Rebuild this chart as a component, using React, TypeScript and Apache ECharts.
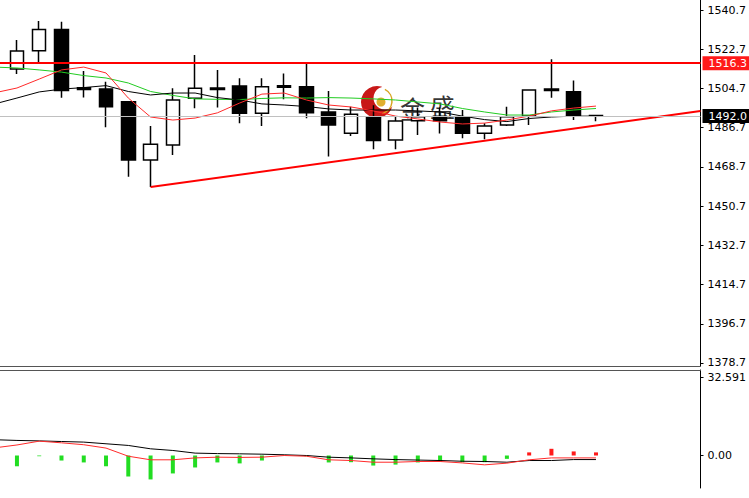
import React, { useEffect, useRef } from "react";
import * as echarts from "echarts";

// Candles: [open, close, low, high]
const candles: number[][] = [
  [1513.6, 1521.9, 1511.3, 1526.9],
  [1522.0, 1531.8, 1515.9, 1535.6],
  [1531.8, 1503.7, 1500.4, 1535.3],
  [1505.0, 1504.2, 1500.6, 1512.7],
  [1504.4, 1496.3, 1486.9, 1507.8],
  [1498.6, 1471.9, 1464.2, 1498.6],
  [1471.9, 1479.1, 1459.5, 1487.5],
  [1478.8, 1499.4, 1474.2, 1504.8],
  [1500.2, 1504.8, 1495.6, 1520.0],
  [1504.9, 1504.2, 1496.0, 1513.2],
  [1505.8, 1493.3, 1488.7, 1509.4],
  [1493.3, 1505.5, 1487.5, 1509.4],
  [1505.9, 1505.3, 1499.7, 1511.6],
  [1505.5, 1493.6, 1491.0, 1516.4],
  [1493.9, 1487.9, 1473.5, 1503.5],
  [1484.1, 1492.8, 1482.9, 1496.3],
  [1491.7, 1480.8, 1476.8, 1497.0],
  [1481.0, 1489.8, 1476.8, 1491.7],
  [1489.9, 1491.7, 1483.3, 1496.0],
  [1491.9, 1489.9, 1484.0, 1496.0],
  [1491.7, 1484.1, 1481.8, 1494.8],
  [1484.1, 1487.5, 1481.4, 1488.7],
  [1487.9, 1491.7, 1487.5, 1496.3],
  [1492.1, 1504.0, 1487.9, 1504.0],
  [1504.4, 1503.8, 1500.4, 1518.1],
  [1503.2, 1492.1, 1490.2, 1508.3],
  [1492.3, 1492.0, 1489.7, 1492.3],
];

// Indicator lines: first value belongs to the bar just before the visible range (index -1)
const maRed = [
  1502.7, 1504.9, 1509.0, 1513.2, 1514.5, 1511.8, 1500.3, 1491.6, 1490.2, 1491.1, 1493.5,
  1498.0, 1502.1, 1502.6, 1499.4, 1497.1, 1496.2, 1494.4, 1492.0, 1490.7, 1489.3,
  1488.4, 1488.8, 1490.2, 1492.0, 1494.4, 1495.7, 1496.6,
];
const maBlack = [
  1497.6, 1500.3, 1503.1, 1504.4, 1505.1, 1506.0, 1503.3, 1501.7, 1502.6, 1502.6, 1500.5,
  1499.4, 1497.6, 1497.1, 1496.4, 1495.3, 1494.8, 1494.8, 1494.8, 1494.4, 1493.9,
  1492.0, 1490.4, 1489.5, 1490.9, 1491.6, 1492.0, 1492.0,
];
const maGreen = [
  1514.5, 1514.1, 1513.2, 1512.2, 1510.6, 1509.5, 1507.2, 1503.3, 1501.5, 1499.9, 1499.7,
  1499.6, 1500.1, 1500.4, 1500.3, 1500.5, 1500.3, 1499.9, 1499.4, 1498.5, 1497.6,
  1495.5, 1493.9, 1492.5, 1492.5, 1493.9, 1494.8, 1495.5,
];

const macdHist = [
  -4.5, -0.3, -2.1, -2.9, -4.5, -8.8, -10.0, -7.5, -5.0, -2.9, -3.3, -2.1, 0, -0.3,
  -2.9, -2.8, -4.2, -3.8, -2.9, -2.4, -2.8, -2.8, -1.4, 1.3, 2.8, 1.7, 1.3,
];
const macdMain = [
  6.6, 6.3, 6.1, 5.85, 5.6, 4.9, 4.2, 2.8, 2.1, 1.0, 0.8, 0.7, 0.55, 0.3, 0.0, -0.7, -1.0,
  -1.4, -1.7, -1.9, -2.1, -2.4, -2.5, -2.8, -2.1, -2.1, -1.7, -1.7,
];
const macdSignal = [
  3.2, 4.4, 6.0, 5.3, 4.5, 3.1, -0.3, -1.8, -1.8, -1.0, -0.7, -0.8, -0.7, 0.0, -0.3, -1.8,
  -2.1, -2.8, -2.8, -2.5, -2.5, -3.1, -3.9, -3.2, -1.8, -1.0, -1.0, -1.0,
];

const priceTicks = [1378.7, 1396.7, 1414.7, 1432.7, 1450.7, 1468.7, 1486.7, 1504.7, 1522.7, 1540.7];
const lowerTickValues = [0, 32.591];
const lowerTickLabels = ["0.00", "32.591"];

const resistanceLevel = 1516.3;
const bidLevel = 1492.0;
const levelLabels = ["1516.3", "1492.0"];

// trend line endpoints: [bar index, price]
const trendLine = [
  [6, 1459.5],
  [30.69, 1494.3],
];

const X_MIN = -0.761;
const X_MAX = 30.694;

const FONT = "DejaVu Sans";

export default function App() {
  const ref = useRef<HTMLDivElement>(null);

  useEffect(() => {
    document.body.style.margin = "0";
    if (!ref.current) return;
    const chart = echarts.init(ref.current, undefined, { renderer: "svg" });

    // indicator arrays start one bar before the first visible candle
    const idx = (arr: number[]) => arr.map((v, i) => [i - 1, v]);

    const option: any = {
      animation: false,
      backgroundColor: "#ffffff",
      grid: [
        { left: 0, right: 46, top: 0, height: 366 },
        { left: 0, right: 46, top: 370, height: 118 },
      ],
      xAxis: [
        {
          type: "value",
          gridIndex: 0,
          min: X_MIN,
          max: X_MAX,
          axisLine: { show: true, onZero: false, lineStyle: { color: "#555", width: 1 } },
          axisTick: { show: false },
          axisLabel: { show: false },
          splitLine: { show: false },
        },
        {
          type: "value",
          gridIndex: 1,
          position: "top",
          min: X_MIN,
          max: X_MAX,
          axisLine: { show: true, onZero: false, lineStyle: { color: "#555", width: 1 } },
          axisTick: { show: false },
          axisLabel: { show: false },
          splitLine: { show: false },
        },
      ],
      yAxis: [
        {
          type: "value",
          gridIndex: 0,
          position: "right",
          min: 1377.32,
          max: 1545.29,
          axisLine: { show: true, onZero: false, lineStyle: { color: "#000", width: 1 } },
          axisTick: { show: true, length: 3, customValues: priceTicks, lineStyle: { color: "#000" } },
          axisLabel: {
            customValues: priceTicks,
            formatter: (v: number) => v.toFixed(1),
            margin: 7,
            color: "#000",
            fontSize: 11,
            fontFamily: FONT,
          },
          splitLine: { show: false },
        },
        {
          type: "value",
          gridIndex: 1,
          position: "right",
          min: -13.58,
          max: 35.73,
          axisLine: { show: true, onZero: false, lineStyle: { color: "#000", width: 1 } },
          axisTick: { show: true, length: 3, customValues: lowerTickValues, lineStyle: { color: "#000" } },
          axisLabel: {
            customValues: lowerTickValues,
            formatter: (v: number) => {
              const k = lowerTickValues.indexOf(v);
              return k >= 0 ? lowerTickLabels[k] : String(v);
            },
            margin: 7,
            color: "#000",
            fontSize: 11,
            fontFamily: FONT,
          },
          splitLine: { show: false },
        },
      ],
      series: [
        {
          type: "candlestick",
          xAxisIndex: 0,
          yAxisIndex: 0,
          barWidth: 14,
          encode: { x: 0, y: [1, 2, 3, 4] },
          data: candles.map((c, i) => [i, c[0], c[1], c[2], c[3]]),
          itemStyle: {
            color: "#ffffff",
            color0: "#000000",
            borderColor: "#000000",
            borderColor0: "#000000",
            borderColorDoji: "#000000",
            borderWidth: 1.5,
          },
          markLine: {
            silent: true,
            symbol: "none",
            animation: false,
            data: [
              {
                yAxis: bidLevel,
                lineStyle: { color: "#c0c0c0", width: 1, type: "solid" },
                label: {
                  show: true,
                  position: "end",
                  distance: 2,
                  formatter: levelLabels[1],
                  color: "#fff",
                  backgroundColor: "#000",
                  padding: [2, 6, 1, 6],
                  fontSize: 11,
                  fontFamily: FONT,
                },
              },
              {
                yAxis: resistanceLevel,
                lineStyle: { color: "#ff0000", width: 2, type: "solid" },
                label: {
                  show: true,
                  position: "end",
                  distance: 2,
                  formatter: levelLabels[0],
                  color: "#fff",
                  backgroundColor: "#ff1a1a",
                  padding: [2, 6, 1, 6],
                  fontSize: 11,
                  fontFamily: FONT,
                },
              },
            ],
          },
          z: 2,
        },
        {
          type: "line",
          xAxisIndex: 0,
          yAxisIndex: 0,
          data: idx(maGreen),
          showSymbol: false,
          lineStyle: { color: "#22cc22", width: 1 },
          z: 3,
        },
        {
          type: "line",
          xAxisIndex: 0,
          yAxisIndex: 0,
          data: idx(maBlack),
          showSymbol: false,
          lineStyle: { color: "#000000", width: 1 },
          z: 3,
        },
        {
          type: "line",
          xAxisIndex: 0,
          yAxisIndex: 0,
          data: idx(maRed),
          showSymbol: false,
          lineStyle: { color: "#ff2a2a", width: 1 },
          z: 3,
        },
        {
          type: "line",
          xAxisIndex: 0,
          yAxisIndex: 0,
          data: trendLine,
          showSymbol: false,
          symbol: "none",
          lineStyle: { color: "#ff0000", width: 2 },
          z: 4,
        },
        {
          type: "bar",
          xAxisIndex: 1,
          yAxisIndex: 1,
          barWidth: 4,
          data: macdHist.map((v, i) => ({
            value: [i, v],
            itemStyle: { color: v >= 0 ? "#ff1a1a" : "#22dd22" },
          })),
          z: 2,
        },
        {
          type: "line",
          xAxisIndex: 1,
          yAxisIndex: 1,
          data: idx(macdMain),
          showSymbol: false,
          lineStyle: { color: "#000000", width: 1 },
          z: 3,
        },
        {
          type: "line",
          xAxisIndex: 1,
          yAxisIndex: 1,
          data: idx(macdSignal),
          showSymbol: false,
          lineStyle: { color: "#ff2a2a", width: 1 },
          z: 3,
        },
      ],
      graphic: [
        {
          type: "group",
          z: 20,
          children: [
            { type: "circle", shape: { cx: 377, cy: 102, r: 16 }, style: { fill: "#c81818" } },
            { type: "circle", shape: { cx: 385, cy: 98, r: 11.5 }, style: { fill: "#ffffff" } },
            {
              type: "arc",
              shape: { cx: 379, cy: 101, r: 13, startAngle: -1.1, endAngle: 1.3 },
              style: { stroke: "#d9a520", lineWidth: 1.5, fill: "none" },
            },
            { type: "circle", shape: { cx: 381, cy: 102, r: 4.5 }, style: { fill: "#e0b030" } },
            {
              type: "text",
              x: 400,
              y: 95,
              style: {
                text: "金",
                fontSize: 25,
                fontFamily: "Noto Sans CJK SC",
                fill: "#1a1a1a",
                opacity: 0.9,
              },
            },
            {
              type: "text",
              x: 430,
              y: 93,
              style: {
                text: "盛",
                fontSize: 25,
                fontFamily: "Noto Sans CJK SC",
                fill: "#1a1a1a",
                opacity: 0.9,
              },
            },
          ],
        },
      ],
    };

    chart.setOption(option);
    return () => chart.dispose();
  }, []);

  return <div ref={ref} style={{ width: 749, height: 498 }} />;
}
